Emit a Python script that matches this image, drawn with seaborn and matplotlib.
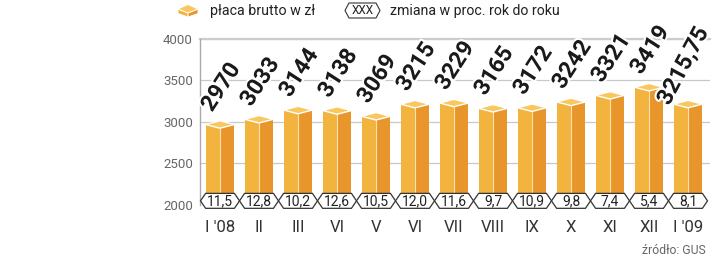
import numpy as np
import pandas as pd
import matplotlib
matplotlib.use("Agg")
import matplotlib.pyplot as plt
import matplotlib.patheffects as pe
from matplotlib.patches import Polygon, Rectangle
import seaborn as sns

# ---- data ----
months = ["I '08", "II", "III", "VI", "V", "VI", "VII", "VIII", "IX", "X", "XI", "XII", "I '09"]
wages = [2970, 3033, 3144, 3138, 3069, 3215, 3229, 3165, 3172, 3242, 3321, 3419, 3215.75]
changes = [11.5, 12.8, 10.2, 12.6, 10.5, 12.0, 11.6, 9.7, 10.9, 9.8, 7.4, 5.4, 8.1]
yticks = [2000, 2500, 3000, 3500, 4000]

C_LEFT = "#f2b33f"
C_RIGHT = "#e8962b"
C_TOP = "#f8c85f"
FONT = ["Roboto", "DejaVu Sans"]

sns.set_theme(style="white")
plt.rcParams["font.family"] = FONT

W, H = 720, 261
fig = plt.figure(figsize=(W / 100, H / 100), dpi=100)
ax = fig.add_axes([200 / W, (H - 205) / H, 510 / W, (205 - 39) / H])

df = pd.DataFrame({"idx": np.arange(len(wages)), "wage": wages})
bw = 0.74
sns.barplot(data=df, x="idx", y="wage", color=C_LEFT, saturation=1, width=bw,
            ax=ax, zorder=3, linewidth=0)

ax.set_ylim(2000, 4000)
ax.set_xlim(-0.513, -0.513 + 510 / 39)

d = 45  # half height of the top rhombus in data units
for p, v in zip(list(ax.patches), wages):
    x0 = p.get_x()
    w = p.get_width()
    xm = x0 + w / 2
    ax.add_patch(Rectangle((xm, 0), w / 2, v, facecolor=C_RIGHT, lw=0, zorder=3.5))
    ax.plot([xm, xm], [0, v - d], color="#fbe2b0", lw=0.8, zorder=3.6)
    ax.add_patch(Polygon([(x0, v), (xm, v + d), (x0 + w, v), (xm, v - d)],
                         closed=True, facecolor=C_TOP, edgecolor="white", lw=1.0, zorder=4))

# value labels
n = len(wages)
for i, v in enumerate(wages):
    lab = (f"{v:.2f}".replace(".", ",") if v != int(v) else str(int(v)))
    last = i == n - 1
    off = (-19, -6) if last else (-8, 8)
    rot = 62 if last else 57
    ax.annotate(lab, xy=(i, v + d), xytext=off, textcoords="offset pixels",
                rotation=rot, rotation_mode="anchor", ha="left", va="baseline",
                fontsize=16.5, fontweight="bold", color="#1a1a1a", zorder=6,
                path_effects=[pe.withStroke(linewidth=3, foreground="white")],
                annotation_clip=False)

# change hexagons
hc, hh, tip = 2050, 90, 0.13
for i, c in enumerate(changes):
    pts = [(i - 0.5, hc), (i - 0.5 + tip, hc + hh), (i + 0.5 - tip, hc + hh),
           (i + 0.5, hc), (i + 0.5 - tip, hc - hh), (i - 0.5 + tip, hc - hh)]
    ax.add_patch(Polygon(pts, closed=True, facecolor="white", edgecolor="#333333",
                         lw=0.9, zorder=7, clip_on=False))
    ax.text(i, hc, f"{c:.1f}".replace(".", ","), ha="center", va="center",
            fontsize=10, color="#222222", zorder=8, clip_on=False)

# axes styling
ax.set_yticks(yticks)
ax.set_yticklabels([str(t) for t in yticks], fontsize=9.5, color="#666666")
ax.set_xticks(range(len(months)))
ax.set_xticklabels(months, fontsize=12, color="#333333")
ax.tick_params(axis="x", length=0, pad=11)
ax.tick_params(axis="y", length=0, pad=5)
ax.set_xlabel("")
ax.set_ylabel("")
ax.yaxis.grid(True, color="#c8c8c8", lw=0.9, zorder=0)
ax.xaxis.grid(False)
for s in ["right", "bottom"]:
    ax.spines[s].set_visible(False)
ax.spines["left"].set_color("#aaaaaa")
ax.spines["left"].set_linewidth(1.0)
ax.spines["top"].set_color("#cccccc")
ax.spines["top"].set_linewidth(1.6)
ax.spines["top"].set_zorder(1)
ax.spines["left"].set_zorder(2)

# ---- legend (figure pixel coordinates) ----
def fx(x):
    return x / W

def fy(y):
    return 1 - y / H

tf = fig.transFigure
cube_top = [(178, 9), (188, 4.5), (198, 9), (188, 13)]
cube_l = [(178, 9), (188, 13), (188, 17), (178, 13.5)]
cube_r = [(188, 13), (198, 9), (198, 13.5), (188, 17)]
for poly, col in [(cube_l, C_LEFT), (cube_r, C_RIGHT), (cube_top, C_TOP)]:
    fig.patches.append(Polygon([(fx(a), fy(b)) for a, b in poly], closed=True,
                               facecolor=col, edgecolor="white", lw=0.6, transform=tf))
fig.text(fx(210), fy(10.5), "płaca brutto w zł", fontsize=10.3, color="#222222",
         va="center", ha="left")

hx = [(345, 10.5), (349, 3), (376, 3), (380, 10.5), (376, 18), (349, 18)]
fig.patches.append(Polygon([(fx(a), fy(b)) for a, b in hx], closed=True,
                           facecolor="white", edgecolor="#333333", lw=0.8, transform=tf))
fig.text(fx(362.5), fy(10.5), "XXX", fontsize=8.5, color="#222222", va="center",
         ha="center")
fig.text(fx(390), fy(10.5), "zmiana w proc. rok do roku", fontsize=10.2, color="#222222",
         va="center", ha="left")

fig.text(fx(706), fy(250), "źródło: GUS", fontsize=8.8, color="#666666", ha="right",
         va="center")

fig.savefig("out.png", dpi=100)
